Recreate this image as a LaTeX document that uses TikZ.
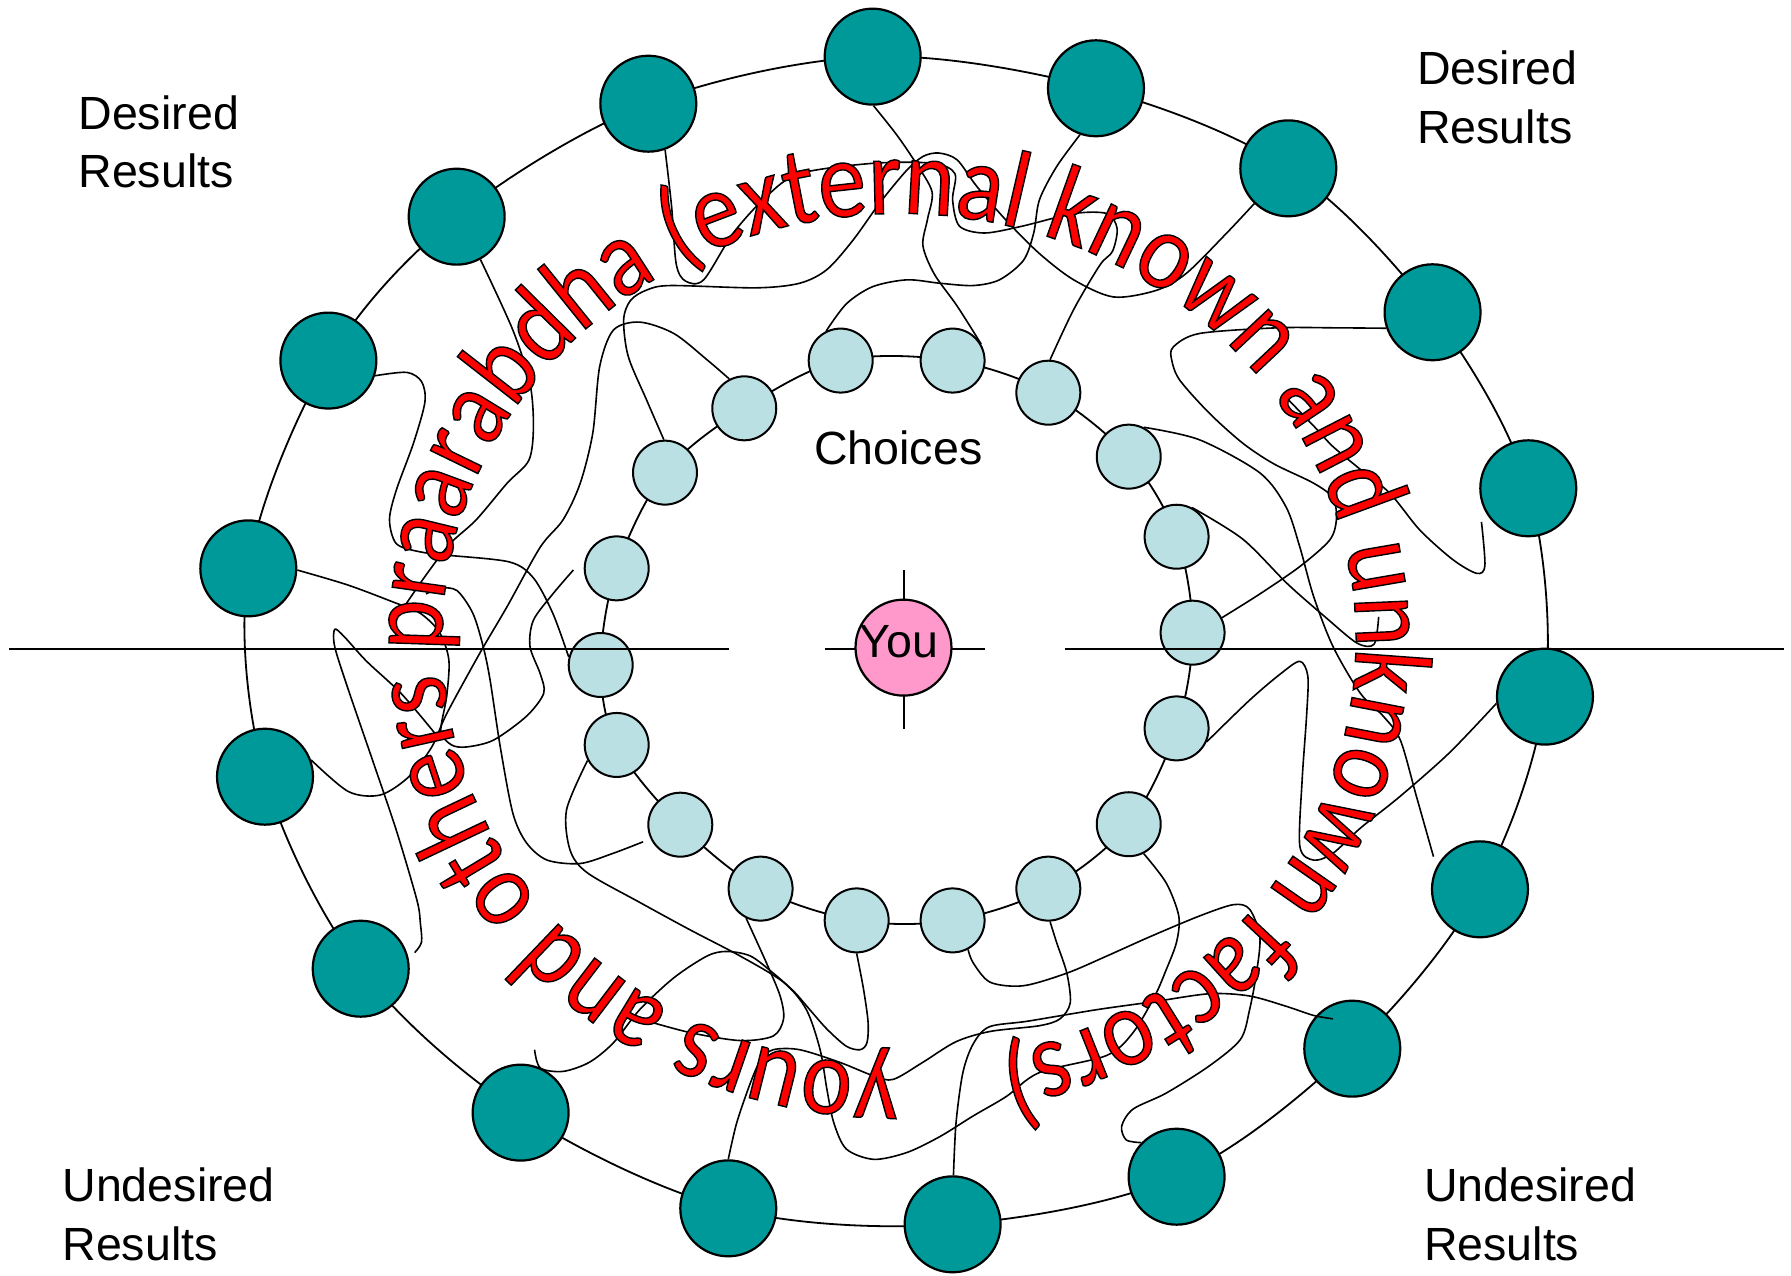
\documentclass[tikz,border=0pt]{standalone}
\usepackage{fontspec}
\setmainfont{Liberation Sans}
\newfontfamily\carlito[FakeStretch=0.873]{Carlito}
\usepackage{tikz}
\usetikzlibrary{decorations.text,backgrounds}

\definecolor{resultteal}{RGB}{0,153,153}
\definecolor{choiceblue}{RGB}{187,224,227}
\definecolor{youpink}{RGB}{255,153,204}

% red letters with a thin black outline
\newcommand\fatefont{\carlito\fontsize{27.5}{30}\selectfont\special{pdf:literal direct 1 0 0 rg 0 0 0 RG 2 Tr 0.35 w}}

\begin{document}
\begin{tikzpicture}[x=0.1mm, y=-0.1mm,
  result/.style={circle, draw, line width=0.55pt, fill=resultteal, minimum size=8.4mm, inner sep=0pt},
  choice/.style={circle, draw, line width=0.5pt, fill=choiceblue, minimum size=5.6mm, inner sep=0pt},
  ring/.style={line width=0.45pt},
  wire/.style={line width=0.4pt},
  axisline/.style={line width=0.55pt},
  lbl/.style={font=\fontsize{11.6}{14.5}\selectfont, align=left, inner sep=0pt, anchor=north west}
]
\useasboundingbox (0,0) rectangle (1568,1117);

% outer ring: results
\foreach \n/\px/\py in {out1/764/49.6, out2/959.5/77.3, out3/1127.9/147.4, out4/1254.2/273.4,
    out5/1338/427.5, out6/1352.6/609.9, out7/1295.7/778.6, out8/1183.9/918.1, out9/1030.1/1030.2,
    out10/834/1071.9, out11/637.6/1057.9, out12/455.8/974.1, out13/315.8/848.1, out14/232/680,
    out15/217.4/497.6, out16/287.5/315.7, out17/399.8/189.7, out18/567.6/90.8}
  \node[result] (\n) at (\px,\py) {};

% inner ring: choices
\foreach \n/\px/\py in {ch1/736/315.7, ch2/834/315.7, ch3/917.8/343.8, ch4/988.2/399.8,
    ch5/1030.1/469.9, ch6/1044.1/553.9, ch7/1030.1/637.7, ch8/988.2/721.6, ch9/917.8/778,
    ch10/834/805.8, ch11/750/805.8, ch12/665.9/778, ch13/595.6/722, ch14/539.9/652.2,
    ch15/525.9/582.2, ch16/539.9/497.6, ch17/582.2/413.8, ch18/651.6/357.5}
  \node[choice] (\n) at (\px,\py) {};

\begin{scope}[on background layer]
\draw[ring] plot[smooth cycle, tension=0.55] coordinates {(out1.center) (out2.center) (out3.center)
  (out4.center) (out5.center) (out6.center) (out7.center) (out8.center) (out9.center) (out10.center)
  (out11.center) (out12.center) (out13.center) (out14.center) (out15.center) (out16.center)
  (out17.center) (out18.center)};
\draw[ring] plot[smooth cycle, tension=0.55] coordinates {(ch1.center) (ch2.center) (ch3.center)
  (ch4.center) (ch5.center) (ch6.center) (ch7.center) (ch8.center) (ch9.center) (ch10.center)
  (ch11.center) (ch12.center) (ch13.center) (ch14.center) (ch15.center) (ch16.center)
  (ch17.center) (ch18.center)};
\end{scope}

% loose ends
\coordinate (loose1) at (356,528);
\coordinate (loose2) at (1255,750);
\coordinate (loose3) at (1128,350);
\coordinate (loose4) at (1297,457);
\coordinate (loose5) at (1207,540);
\coordinate (loose6) at (502,499);
\coordinate (loose7) at (363,834);
\coordinate (loose8) at (384,646);
\coordinate (loose9) at (563,737);
\coordinate (loose10) at (373,520);
\coordinate (loose11) at (468,919);
\coordinate (loose12) at (560,892);
\coordinate (loose13) at (1167,892);

% tangled paths between choices and results
\draw[wire] plot[smooth, tension=0.5] coordinates {(out16.-18) (356,326) (369,334) (372,352) (362,388) (347,429) (341,455) (347,476) (367,483) (391,486) (446,492) (467,506) (484,537) (ch15.166)};
\draw[wire] plot[smooth, tension=0.5] coordinates {(out17.-61) (449,289) (464,336) (467,374) (463,403) (444,423) (417,455) (394,476) (374,502) (loose1)};
\draw[wire] plot[smooth, tension=0.5] coordinates {(out18.-70) (588,181) (592,231) (600,246) (616,245) (642,204) (671,172) (700,152) (764,143) (817,143) (836,152) (834,175) (840,198) (862,204) (895,198) (940,187) (969,187) (978,200) (974,220) (963,232) (940,271) (ch3.87)};
\draw[wire] plot[smooth, tension=0.5] coordinates {(out1.-89) (785,118) (802,143) (816,168) (812,192) (808,215) (818,240) (838,268) (ch2.30)};
\draw[wire] plot[smooth, tension=0.5] coordinates {(ch1.116) (741,266) (764,251) (794,245) (823,248) (852,250) (875,245) (896,228) (905,204) (910,175) (925,146) (out2.-109)};
\draw[wire] plot[smooth, tension=0.5] coordinates {(ch18.117) (619,315) (590,292) (560,282) (537,289) (525,321) (519,379) (508,423) (493,455) (473,479) (444,531) (420,572) (391,625) (378,654) (358,680) (333,696) (305,693) (out14.20)};
\draw[wire] plot[smooth, tension=0.5] coordinates {(ch17.92) (566,350) (550,312) (546,280) (552,263) (566,254) (587,250) (662,252) (700,248) (724,236) (747,210) (770,178) (793,150) (808,137) (822,134) (838,140) (855,163) (881,193) (910,222) (940,245) (975,260) (1013,254) (1039,239) (1074,204) (out3.-134)};
\draw[wire] plot[smooth, tension=0.5] coordinates {(out4.-161) (1167,287) (1118,287) (1050,292) (1027,304) (1026,316) (1033,333) (1059,362) (1088,388) (1115,406) (1150,423) (1167,436) (1170,455) (1164,473) (1138,496) (1103,520) (ch6.27)};
\draw[wire] plot[smooth, tension=0.5] coordinates {(ch4.63) (1050,385) (1103,414) (1126,444) (1138,479) (1150,522) (1167,566) (1191,607) (1211,627) (1226,648) (1240,697) (loose2)};
\draw[wire] plot[smooth, tension=0.5] coordinates {(loose3) (1153,376) (1167,391) (1191,411) (1217,432) (1243,464) (1272,490) (1293,502) (1300,495) (loose4)};
\draw[wire] plot[smooth, tension=0.5] coordinates {(ch5.62) (1088,472) (1127,511) (1160,540) (1188,563) (1203,564) (loose5)};
\draw[wire] plot[smooth, tension=0.5] coordinates {(ch7.-24) (1094,613) (1121,590) (1138,579) (1145,592) (1144,625) (1140,683) (1138,741) (1150,753) (1167,747) (1191,725) (1226,697) (1269,659) (out6.188)};
\draw[wire] plot[smooth, tension=0.5] coordinates {(out15.-2) (304,512) (344,527) (368,537) (385,554) (393,578) (391,610) (386,640) (395,652) (408,654) (432,648) (461,627) (476,607) (473,590) (464,566) (467,543) (484,520) (loose6)};
\draw[wire] plot[smooth, tension=0.5] coordinates {(loose7) (369,825) (368,808) (365,788) (347,727) (327,668) (304,601) (293,566) (293,551) (301,557) (321,579) (352,608) (loose8)};
\draw[wire] plot[smooth, tension=0.5] coordinates {(loose9) (537,747) (508,756) (479,753) (461,738) (449,712) (438,654) (429,595) (423,566) (414,537) (400,517) (385,515) (loose10)};
\draw[wire] plot[smooth, tension=0.5] coordinates {(ch14.-152) (496,709) (499,744) (514,764) (560,790) (604,814) (648,837) (686,860) (706,884) (718,919) (724,954) (730,983) (741,1006) (765,1015) (794,1009) (823,995) (852,977) (881,960) (910,939) (969,924) (992,904) (1011,872) (1021,849) (1030,825) (1032,802) (1021,773) (ch8.-63)};
\draw[wire] plot[smooth, tension=0.5] coordinates {(loose11) (473,935) (493,938) (516,930) (537,913) (560,884) (590,856) (619,837) (636,833) (657,837) (677,852) (695,868) (709,884) (724,901) (741,916) (753,919) (759,913) (760,895) (756,866) (ch11.-90)};
\draw[wire] plot[smooth, tension=0.5] coordinates {(ch12.-116) (671,843) (683,872) (686,892) (677,907) (648,911) (604,904) (loose12)};
\draw[wire] plot[smooth, tension=0.5] coordinates {(ch9.-87) (925,825) (934,852) (937,878) (928,892) (910,898) (867,903) (837,912) (808,930) (782,945) (765,942) (735,930) (700,919) (677,919) (666,928) (657,948) (645,983) (out11.90)};
\draw[wire] plot[smooth, tension=0.5] coordinates {(out10.89) (837,983) (843,939) (852,914) (866,899) (900,894) (960,884) (1010,877) (1059,870) (1094,872) (1126,881) (1150,889) (loose13)};
\draw[wire] plot[smooth, tension=0.5] coordinates {(ch10.-62) (852,843) (867,860) (896,863) (934,852) (969,837) (1007,820) (1050,802) (1080,792) (1094,796) (1103,820) (1100,852) (1094,884) (1086,910) (1059,933) (1021,957) (992,971) (982,986) (986,998) (out9.136)};

% cross through the centre
\draw[axisline] (8,568) -- (638,568);
\draw[axisline] (722,568) -- (862,568);
\draw[axisline] (932,568) -- (1562,568);
\draw[axisline] (791.6,499) -- (791.6,638);

\node[circle, draw, line width=0.55pt, fill=youpink, minimum size=8.4mm, inner sep=0pt,
  font=\fontsize{11.6}{14.5}\selectfont] (you) at (791,567) {};
\node[font=\fontsize{11.6}{14.5}\selectfont, anchor=base, inner sep=0pt] (youtext) at (787,576) {You};
\node[font=\fontsize{11.6}{14.5}\selectfont, anchor=base, inner sep=0pt] (choices) at (786.5,407) {Choices};

\node[lbl] (desiredL) at (68,83) {Desired\\Results};
\node[lbl] (desiredR) at (1240,44) {Desired\\Results};
\node[lbl] (undesiredL) at (54,1022) {Undesired\\Results};
\node[lbl] (undesiredR) at (1246,1022) {Undesired\\Results};

\path[decorate, decoration={text along path,
  text={|\fatefont|yours and others praarabdha (external known and unknown factors)}}]
  (787,933) arc[start angle=90, end angle=450, x radius=400, y radius=373];
\end{tikzpicture}
\end{document}
